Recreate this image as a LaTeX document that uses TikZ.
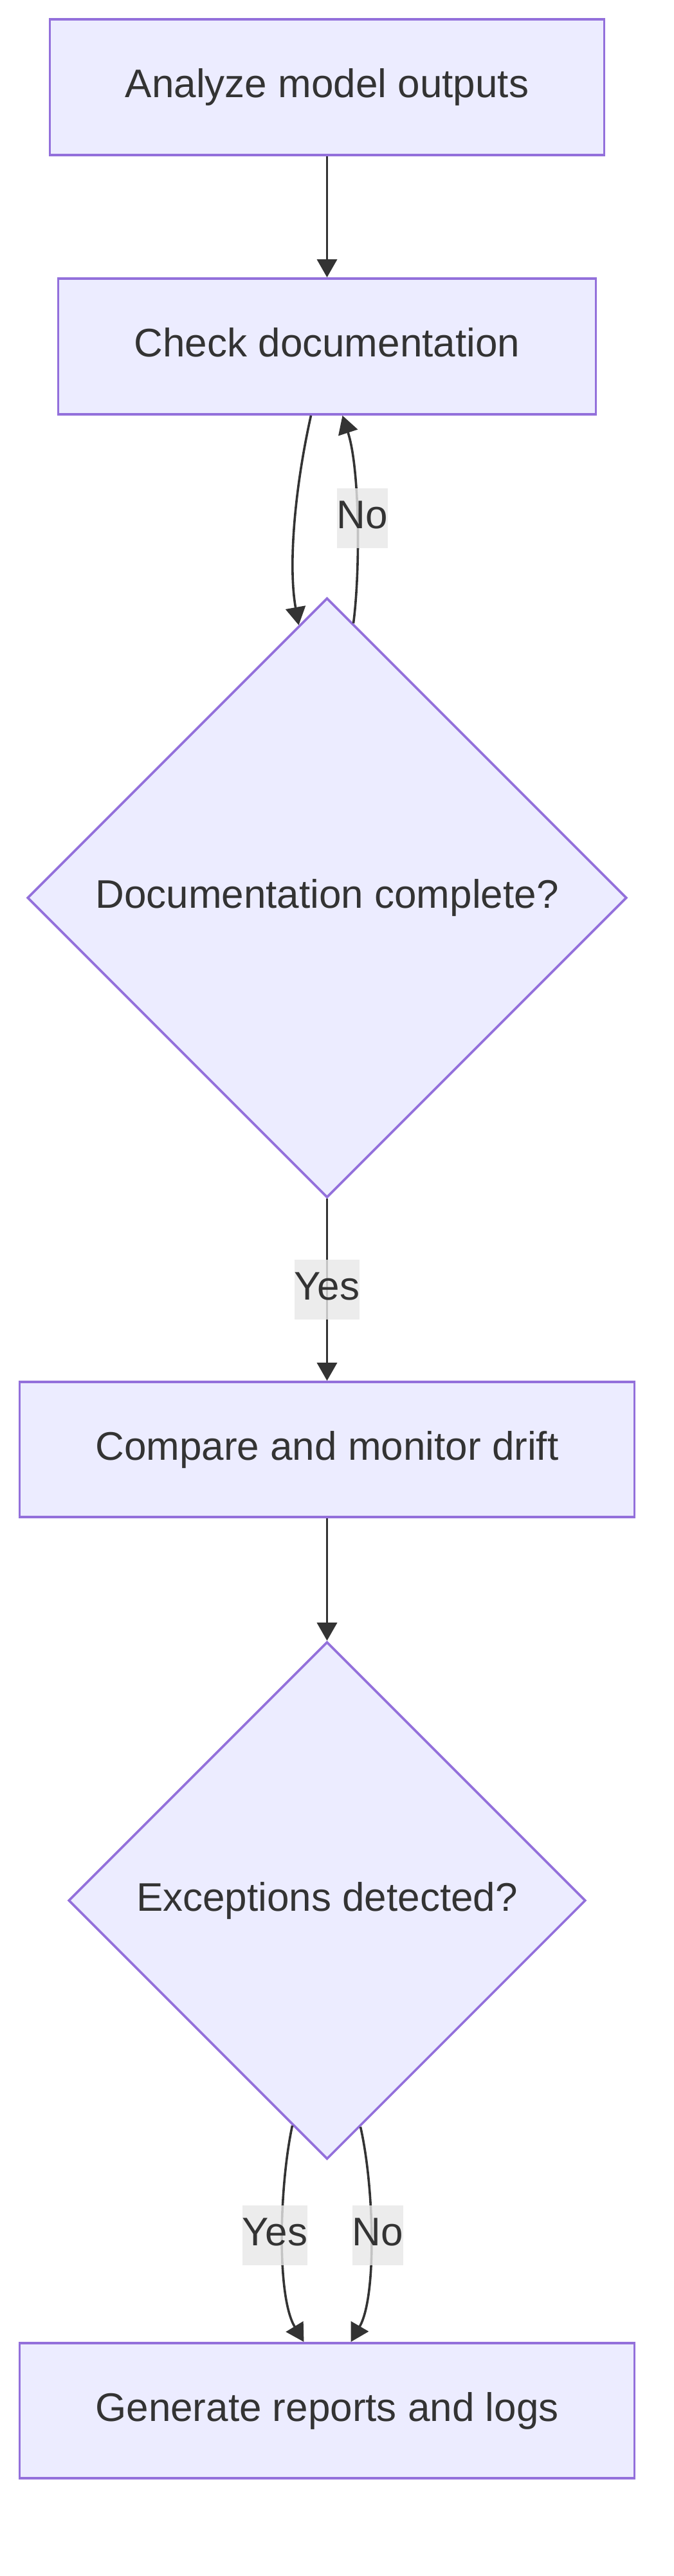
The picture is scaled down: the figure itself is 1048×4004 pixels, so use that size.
\documentclass[tikz,border=0pt]{standalone}
\usepackage{fontspec}
\setmainfont{Liberation Sans}
\usetikzlibrary{shapes.geometric,arrows.meta,calc}
\definecolor{nodefill}{HTML}{ECECFF}
\definecolor{nodeline}{HTML}{9370DB}
\definecolor{edgecol}{HTML}{333333}
\definecolor{labelbg}{HTML}{E8E8E8}
\definecolor{txt}{HTML}{333333}
\begin{document}
\begin{tikzpicture}[x=1pt,y=-1pt,
  every node/.style={font=\fontsize{62pt}{74pt}\selectfont, text=txt},
  procbox/.style={draw=nodeline, fill=nodefill, line width=3.8pt, rectangle, inner sep=0pt, text height=45pt, text depth=13pt},
  decision/.style={draw=nodeline, fill=nodefill, line width=3.6pt, diamond, aspect=1, inner sep=0pt, text height=45pt, text depth=13pt},
  elabel/.style={fill=labelbg, fill opacity=0.8, text opacity=1, inner sep=0pt, minimum height=93pt, text height=45pt, text depth=13pt},
  flow/.style={draw=edgecol, line width=3.6pt, -{Triangle[length=28pt,width=31pt]}}
]
\useasboundingbox (0,0) rectangle (1048,4004);
\fill[white] (0,0) rectangle (1048,4004);

\node[procbox, minimum width=862pt, minimum height=211pt] (b1) at (508.5,135.5) {Analyze model outputs};
\node[procbox, minimum width=836pt, minimum height=211pt] (b2) at (508.5,538.5) {Check documentation};
\node[decision, minimum width=932pt, minimum height=932pt] (d1) at (508.5,1395.5) {Documentation complete?};
\node[procbox, minimum width=956pt, minimum height=210pt] (b3) at (508.5,2253) {Compare and monitor drift};
\node[decision, minimum width=804pt, minimum height=804pt] (d2) at (508.5,2954) {Exceptions detected?};
\node[procbox, minimum width=956pt, minimum height=210pt] (b4) at (508.5,3747) {Generate reports and logs};

\draw[flow] (b1.south) -- (b2.north);
\draw[flow] ($(b2.south)+(-25,0)$) .. controls (458,760) and (448,880) .. ($(d1.north)+(-44,44)$);
\draw[flow] ($(d1.north)+(41,41)$) .. controls (560,890) and (560,730) .. ($(b2.south)+(24,0)$);
\draw[flow] (d1.south) -- (b3.north);
\draw[flow] (b3.south) -- (d2.north);
\draw[flow] ($(d2.south)+(-54,-54)$) .. controls (434,3400) and (430,3570) .. ($(b4.north)+(-36,0)$);
\draw[flow] ($(d2.south)+(52,-52)$) .. controls (582,3400) and (586,3570) .. ($(b4.north)+(37,0)$);

\node[elabel] (lno1) at (563.5,805.5) {No};
\node[elabel] (lyes1) at (508.5,2004.5) {Yes};
\node[elabel] (lyes2) at (427.5,3474.5) {Yes};
\node[elabel] (lno2) at (587.5,3474.5) {No};
\end{tikzpicture}
\end{document}
